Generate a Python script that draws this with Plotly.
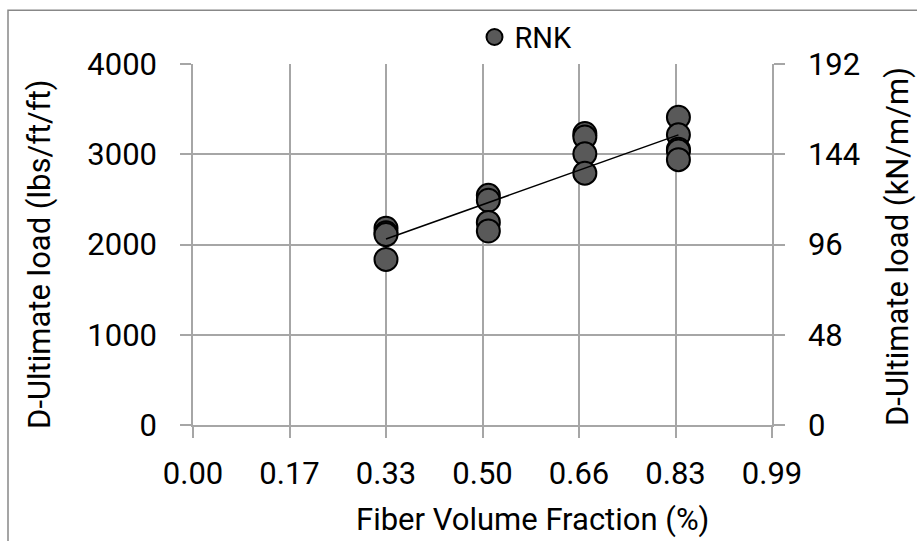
import numpy as np
import plotly.graph_objects as go

# Data (fiber volume fraction %, D-ultimate load lbs/ft/ft)
fiber_vf = [0.33, 0.33, 0.33, 0.33,
            0.505, 0.505, 0.505, 0.505,
            0.67, 0.67, 0.67, 0.67,
            0.83, 0.83, 0.83, 0.83, 0.83]
load_lbs = [2180, 2130, 2110, 1835,
            2545, 2490, 2245, 2150,
            3230, 3190, 3005, 2790,
            3410, 3215, 3055, 3035, 2940]
series_name = "RNK"
x_ticks = [0.0, 0.165, 0.33, 0.495, 0.66, 0.825, 0.99]
x_tick_text = ["0.00", "0.17", "0.33", "0.50", "0.66", "0.83", "0.99"]
y_ticks = [0, 1000, 2000, 3000, 4000]
y2_ticks = [0, 48, 96, 144, 192]
x_title = "Fiber Volume Fraction (%)"
y_title = "D-Ultimate load (lbs/ft/ft)"
y2_title = "D-Ultimate load (kN/m/m)"

slope, intercept = np.polyfit(fiber_vf, load_lbs, 1)
tx = [min(fiber_vf), max(fiber_vf)]
ty = [slope * v + intercept for v in tx]

FONT = "Roboto"
FS = 31
GRID = "#a6a6a6"
L, R, T, B = 193, 145, 62, 116
PW, PH = 917 - L - R, 541 - T - B

fig = go.Figure()
fig.add_trace(go.Scatter(
    x=fiber_vf, y=load_lbs, mode="markers", name=series_name,
    marker=dict(size=23, color="#595959", line=dict(color="black", width=2)),
))
fig.add_trace(go.Scatter(
    x=tx, y=ty, mode="lines", showlegend=False,
    line=dict(color="black", width=1.5),
))
fig.add_trace(go.Scatter(x=[0], y=[0], yaxis="y2", mode="markers",
                         marker=dict(opacity=0), showlegend=False, hoverinfo="skip"))

axis_common = dict(zeroline=False, showline=True, linecolor=GRID, linewidth=1.5,
                   ticks="outside", ticklen=11, tickcolor=GRID, tickwidth=1.5,
                   tickfont=dict(size=FS, family=FONT, color="black"))

fig.update_layout(
    width=917, height=541,
    margin=dict(l=L, r=R, t=T, b=B),
    paper_bgcolor="white", plot_bgcolor="white",
    font=dict(family=FONT, size=FS, color="black"),
    showlegend=True,
    legend=dict(orientation="h", x=(526 - L) / PW, xanchor="center",
                y=(541 - B - 35) / PH, yanchor="middle",
                font=dict(size=29), itemsizing="trace", bgcolor="rgba(0,0,0,0)",
                tracegroupgap=0, itemwidth=30),
    xaxis=dict(range=[0, 0.99], tickmode="array", tickvals=x_ticks, ticktext=x_tick_text,
               showgrid=True, gridcolor=GRID, gridwidth=1.5, ticklabelstandoff=9,
               **axis_common),
    yaxis=dict(range=[0, 4000], tickvals=y_ticks, showgrid=True, gridcolor=GRID,
               gridwidth=1.5, ticklabelstandoff=17, **axis_common),
    yaxis2=dict(range=[0, 192], tickvals=y2_ticks, overlaying="y", side="right",
                showgrid=False, ticklabelstandoff=17, **axis_common),
    annotations=[
        dict(text=x_title, xref="paper", yref="paper", x=(532 - L) / PW, y=(541 - B - 520) / PH,
             xanchor="center", yanchor="middle", showarrow=False,
             font=dict(size=FS, family=FONT)),
        dict(text=y_title, xref="paper", yref="paper", x=(40 - L) / PW, y=(541 - B - 253) / PH,
             xanchor="center", yanchor="middle", textangle=-90, showarrow=False,
             font=dict(size=FS, family=FONT)),
        dict(text=y2_title, xref="paper", yref="paper", x=(898 - L) / PW, y=(541 - B - 246) / PH,
             xanchor="center", yanchor="middle", textangle=-90, showarrow=False,
             font=dict(size=FS, family=FONT)),
    ],
    shapes=[dict(type="rect", xref="paper", yref="paper",
                 x0=(8 - L) / PW, x1=1.5, y0=-0.6, y1=(541 - B - 8) / PH,
                 line=dict(color="#888888", width=1.5), layer="below")],
)

fig.write_html("out.html")
